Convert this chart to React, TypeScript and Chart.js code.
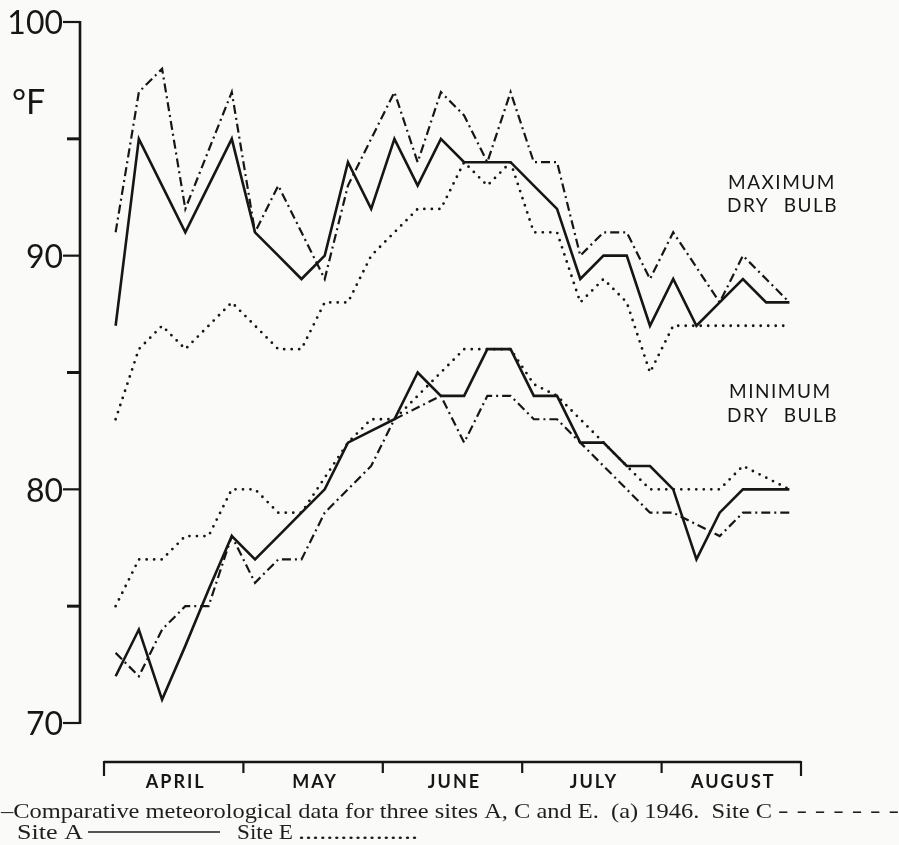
import { useEffect, useRef } from "react";
import { Chart, registerables } from "chart.js";

Chart.register(...registerables);

// Five-day periods, six per month, April to August 1946
const MONTHS = ["APRIL", "MAY", "JUNE", "JULY", "AUGUST"];
const PENTAD_DAYS = ["1", "6", "11", "16", "21", "26"];
const PENTADS = MONTHS.flatMap((m) => PENTAD_DAYS.map((d) => `${d} ${m}`));

// Temperature axis (°F)
const Y_MIN = 70;
const Y_MAX = 100;
const Y_TICKS = [70, 75, 80, 85, 90, 95, 100];
const Y_LABELLED = [70, 80, 90, 100];

// Maximum dry bulb, °F
const maxSiteA = [87, 95, 93, 91, 93, 95, 91, 90, 89, 90, 94, 92, 95, 93, 95, 94, 94, 94, 93, 92, 89, 90, 90, 87, 89, 87, 88, 89, 88, 88];
const maxSiteC = [91, 97, 98, 92, 94.5, 97, 91, 93, 91, 89, 93, 95, 97, 94, 97, 96, 94, 97, 94, 94, 90, 91, 91, 89, 91, 89.5, 88, 90, 89, 88];
const maxSiteE = [83, 86, 87, 86, 87, 88, 87, 86, 86, 88, 88, 90, 91, 92, 92, 94, 93, 94, 91, 91, 88, 89, 88, 85, 87, 87, 87, 87, 87, 87];

// Minimum dry bulb, °F
const minSiteA = [72, 74, 71, 73.3, 75.7, 78, 77, 78, 79, 80, 82, 82.5, 83, 85, 84, 84, 86, 86, 84, 84, 82, 82, 81, 81, 80, 77, 79, 80, 80, 80];
const minSiteC = [73, 72, 74, 75, 75, 78, 76, 77, 77, 79, 80, 81, 83, 83.5, 84, 82, 84, 84, 83, 83, 82, 81, 80, 79, 79, 78.5, 78, 79, 79, 79];
const minSiteE = [75, 77, 77, 78, 78, 80, 80, 79, 79, 80.5, 82, 83, 83, 84, 85, 86, 86, 86, 84.5, 84, 83, 82, 81, 80, 80, 80, 80, 81, 80.5, 80];

const INK = "#161616";
const PAPER = "#fafaf8";

const W = 899;
const H = 845;

const solid = { borderDash: [] as number[], borderWidth: 2.6, borderCapStyle: "butt" as const };
const dashed = { borderDash: [9, 4, 2, 4], borderWidth: 2.2, borderCapStyle: "butt" as const };
const dotted = { borderDash: [0, 7.5], borderWidth: 2.8, borderCapStyle: "round" as const };

function fitText(ctx: CanvasRenderingContext2D, text: string, x: number, baseline: number, width: number) {
  const w = ctx.measureText(text).width;
  ctx.save();
  ctx.translate(x, baseline);
  ctx.scale(width / w, 1);
  ctx.textAlign = "left";
  ctx.textBaseline = "alphabetic";
  ctx.fillText(text, 0, 0);
  ctx.restore();
}

const figurePlugin = {
  id: "figure",
  beforeDraw(chart: Chart) {
    const ctx = chart.ctx;
    ctx.save();
    ctx.fillStyle = PAPER;
    ctx.fillRect(0, 0, chart.width, chart.height);
    ctx.restore();
  },
  afterDraw(chart: Chart) {
    const ctx = chart.ctx;
    const y = chart.scales.y;
    const area = chart.chartArea;
    ctx.save();
    ctx.strokeStyle = INK;
    ctx.fillStyle = INK;
    ctx.lineCap = "butt";

    // Temperature axis, set apart from the plotting area
    const axisX = 80;
    ctx.lineWidth = 2.6;
    ctx.beginPath();
    ctx.moveTo(axisX, y.getPixelForValue(Y_MAX) - 1);
    ctx.lineTo(axisX, y.getPixelForValue(Y_MIN) + 1);
    ctx.stroke();

    ctx.font = "32px Lato";
    ctx.textAlign = "right";
    ctx.textBaseline = "middle";
    for (const v of Y_TICKS) {
      const py = y.getPixelForValue(v);
      const major = Y_LABELLED.includes(v);
      ctx.lineWidth = major ? 2.2 : 3;
      ctx.beginPath();
      ctx.moveTo(axisX - (major ? 17 : 13), py);
      ctx.lineTo(axisX, py);
      ctx.stroke();
      if (major) ctx.fillText(String(v), 63, py + 2);
    }
    ctx.textAlign = "left";
    ctx.textBaseline = "alphabetic";
    ctx.font = "34px Lato";
    ctx.fillText("°F", 12, 114);

    // Month axis
    const axisY = 762;
    ctx.lineWidth = 2.6;
    ctx.beginPath();
    ctx.moveTo(area.left, axisY);
    ctx.lineTo(area.right, axisY);
    ctx.stroke();
    const step = (area.right - area.left) / MONTHS.length;
    ctx.lineWidth = 2.2;
    for (let k = 0; k <= MONTHS.length; k++) {
      const bx = area.left + step * k;
      const end = k === 0 || k === MONTHS.length;
      ctx.beginPath();
      ctx.moveTo(bx, axisY - 1);
      ctx.lineTo(bx, axisY + (end ? 14 : 11));
      ctx.stroke();
    }
    ctx.font = "bold 18px Lato";
    (ctx as any).letterSpacing = "2px";
    ctx.textAlign = "center";
    ctx.textBaseline = "alphabetic";
    MONTHS.forEach((m, k) => {
      ctx.fillText(m, area.left + step * (k + 0.5) + 2, 788);
    });

    // Series labels at the right
    ctx.font = "19px Lato";
    (ctx as any).letterSpacing = "1.5px";
    ctx.textAlign = "left";
    ctx.fillText("MAXIMUM", 728, 189);
    ctx.fillText("DRY", 727, 212);
    ctx.textAlign = "right";
    ctx.fillText("BULB", 838, 212);
    ctx.textAlign = "left";
    ctx.fillText("MINIMUM", 729, 398);
    ctx.fillText("DRY", 727, 422);
    ctx.textAlign = "right";
    ctx.fillText("BULB", 838, 422);
    (ctx as any).letterSpacing = "0px";

    // Caption
    ctx.fillStyle = "#1e1e1e";
    ctx.strokeStyle = "#1e1e1e";
    ctx.font = "21px 'Liberation Serif'";
    fitText(ctx, "\u2013Comparative meteorological data for three sites A, C and E.  (a) 1946.  Site C", 1, 818, 771);
    fitText(ctx, "- - - - - - -", 778, 817, 121);
    fitText(ctx, "Site A", 17, 839, 66);
    ctx.lineWidth = 1.5;
    ctx.beginPath();
    ctx.moveTo(88, 832);
    ctx.lineTo(220, 832);
    ctx.stroke();
    fitText(ctx, "Site E", 237, 839, 56);
    fitText(ctx, ".................", 298, 839, 120);

    ctx.restore();
  },
};

export default function App() {
  const canvasRef = useRef<HTMLCanvasElement | null>(null);

  useEffect(() => {
    document.body.style.margin = "0";
    const canvas = canvasRef.current;
    if (!canvas) return;

    const line = (label: string, data: number[], style: object) => ({
      label,
      data,
      borderColor: INK,
      backgroundColor: INK,
      pointRadius: 0,
      tension: 0,
      fill: false,
      ...style,
    });

    const chart = new Chart(canvas, {
      type: "line",
      data: {
        labels: PENTADS,
        datasets: [
          line("Site A max", maxSiteA, solid),
          line("Site C max", maxSiteC, dashed),
          line("Site E max", maxSiteE, dotted),
          line("Site A min", minSiteA, solid),
          line("Site C min", minSiteC, dashed),
          line("Site E min", minSiteE, dotted),
        ],
      },
      options: {
        responsive: false,
        animation: false,
        devicePixelRatio: 1,
        layout: { padding: { left: 104, right: W - 801, top: 22, bottom: H - 723 } },
        plugins: { legend: { display: false }, tooltip: { enabled: false } },
        scales: {
          x: { type: "category", offset: true, display: false },
          y: { min: Y_MIN, max: Y_MAX, display: false },
        },
        elements: { line: { borderJoinStyle: "miter" } },
      },
      plugins: [figurePlugin],
    });

    return () => chart.destroy();
  }, []);

  return <canvas ref={canvasRef} width={W} height={H} style={{ display: "block", width: W, height: H }} />;
}
